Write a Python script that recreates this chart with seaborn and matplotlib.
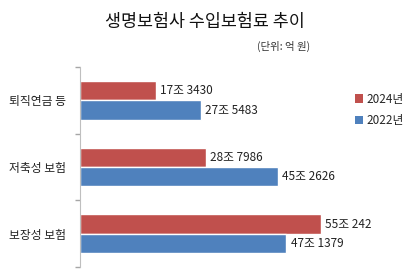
import pandas as pd
import numpy as np
import matplotlib
matplotlib.use("Agg")
import matplotlib.pyplot as plt
from matplotlib.patches import Patch
import seaborn as sns

# Data (unit: 조 원, 1조 = 10000억)
categories = ["퇴직연금 등", "저축성 보험", "보장성 보험"]
years = ["2024년", "2022년"]
values_2024 = [17.3430, 28.7986, 55.0242]
values_2022 = [27.5483, 45.2626, 47.1379]
labels_2024 = ["17조 3430", "28조 7986", "55조 242"]
labels_2022 = ["27조 5483", "45조 2626", "47조 1379"]

df = pd.DataFrame({
    "category": categories * 2,
    "year": [years[0]] * 3 + [years[1]] * 3,
    "value": values_2024 + values_2022,
})

sns.set_theme(style="white")
plt.rcParams["font.family"] = ["Noto Sans CJK KR", "DejaVu Sans"]

fig = plt.figure(figsize=(4.1, 2.71), dpi=100)
ax = fig.add_axes([80 / 410, 1 - 267 / 271, 270 / 410, 200 / 271])

palette = {"2024년": "#C0504D", "2022년": "#4F81BD"}
sns.barplot(data=df, x="value", y="category", hue="year", hue_order=years,
            order=categories, palette=palette, orient="h", width=0.58,
            gap=0, saturation=1, ax=ax, legend=False)

# value labels
for cont, labs in zip(ax.containers, [labels_2024, labels_2022]):
    ax.bar_label(cont, labels=labs, padding=3, fontsize=8.5, color="#222222")

ax.set_xlim(0, 270 / 4.38)
ax.set_ylim(2.5, -0.5)
ax.set_xlabel("")
ax.set_ylabel("")
ax.set_xticks([])
ax.tick_params(axis="y", which="major", length=0, labelsize=8.5, pad=10,
               labelcolor="#222222")
ax.set_yticks([-0.5, 0.5, 1.5, 2.5], minor=True)
ax.tick_params(axis="y", which="minor", left=True, length=3.5, color="#a6a6a6",
               width=1.0, direction="out")
for s in ["top", "right", "bottom"]:
    ax.spines[s].set_visible(False)
ax.spines["left"].set_color("#bfbfbf")
ax.spines["left"].set_linewidth(0.8)

# legend
handles = [Patch(facecolor=palette[y], edgecolor="none") for y in years]
fig.legend(handles, years, loc="upper left", bbox_to_anchor=(350 / 410, 1 - 88 / 271),
           frameon=False, fontsize=8.5, handlelength=0.7, handleheight=0.7,
           handletextpad=0.3, labelspacing=0.7, borderaxespad=0)

fig.text(0.5, 1 - 22 / 271, "생명보험사 수입보험료 추이", ha="center", va="center",
         fontsize=12.5, color="#111111")
fig.text(310 / 410, 1 - 46 / 271, "(단위: 억 원)", ha="right", va="center",
         fontsize=7.5, color="#333333")

fig.savefig("out.png", dpi=100, facecolor="white")
